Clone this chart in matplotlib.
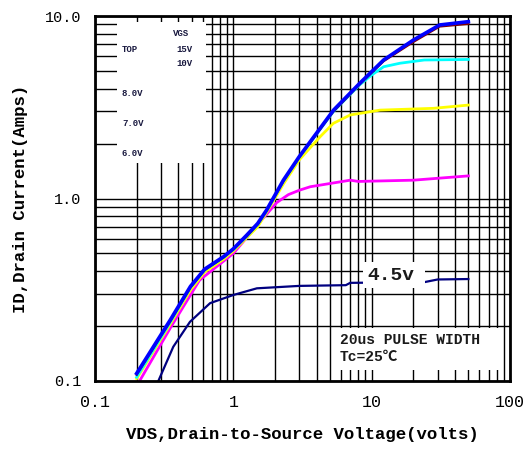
import matplotlib
matplotlib.use("Agg")
import matplotlib.pyplot as plt
from matplotlib.patches import Rectangle
from matplotlib.ticker import LogLocator, NullFormatter

# VGS curves (VDS volts, ID amps)
vds_15 = [0.2, 0.35, 0.49, 0.62, 0.85, 1.0, 1.25, 1.5, 1.74, 2.3, 3.0, 5.3, 8.2, 12.2, 20, 31, 50]
id_15 = [0.11, 0.216, 0.33, 0.41, 0.48, 0.53, 0.63, 0.73, 0.865, 1.26, 1.70, 3.05, 4.28, 5.74, 7.38, 8.93, 9.31]

vds_10 = [0.2, 0.35, 0.49, 0.62, 0.85, 1.0, 1.25, 1.5, 1.74, 2.3, 3.0, 5.3, 8.2, 12.2, 20, 31, 50]
id_10 = [0.108, 0.212, 0.325, 0.405, 0.475, 0.525, 0.62, 0.72, 0.855, 1.24, 1.68, 3.0, 4.22, 5.65, 7.2, 8.75, 9.05]

vds_8 = [0.2, 0.35, 0.49, 0.62, 0.85, 1.0, 1.25, 1.5, 1.74, 2.3, 3.0, 5.3, 8.2, 10, 12.2, 16, 24, 50]
id_8 = [0.105, 0.21, 0.325, 0.405, 0.475, 0.525, 0.62, 0.72, 0.855, 1.24, 1.68, 3.0, 4.2, 4.75, 5.27, 5.51, 5.74, 5.78]

vds_7 = [0.2, 0.35, 0.49, 0.62, 0.85, 1.0, 1.25, 1.5, 1.74, 2.3, 3.0, 4.24, 5.28, 7.0, 11.5, 28, 50]
id_7 = [0.103, 0.205, 0.315, 0.395, 0.465, 0.515, 0.61, 0.70, 0.84, 1.2, 1.63, 2.18, 2.58, 2.87, 3.05, 3.12, 3.25]

vds_6 = [0.21, 0.35, 0.57, 1.0, 1.56, 2.06, 2.5, 3.0, 3.6, 7.0, 8.0, 20, 50]
id_6 = [0.1, 0.195, 0.357, 0.50, 0.746, 0.95, 1.05, 1.11, 1.16, 1.26, 1.24, 1.26, 1.33]

vds_45 = [0.287, 0.368, 0.486, 0.679, 1.0, 1.48, 3.0, 6.5, 7.0, 24, 30, 50]
id_45 = [0.1, 0.154, 0.211, 0.267, 0.296, 0.322, 0.332, 0.335, 0.345, 0.348, 0.36, 0.362]

x_ticks = [0.1, 1, 10, 100]
x_labels = ["0.1", "1", "10", "100"]
y_ticks = [0.1, 1, 10]
y_labels = ["0.1", "1.0", "10.0"]

mono = "Liberation Mono"

fig = plt.figure(figsize=(5.25, 4.53), dpi=100)
ax = fig.add_axes([95 / 525, 1 - 381 / 453, 415 / 525, 365 / 453])
ax.set_xscale("log")
ax.set_yscale("log")
ax.set_xlim(0.1, 100)
ax.set_ylim(0.1, 10)

ax.plot(vds_45, id_45, color="#000080", linewidth=1.6)
ax.plot(vds_6, id_6, color="#ff00ff", linewidth=2)
ax.plot(vds_7, id_7, color="#ffff00", linewidth=2)
ax.plot(vds_8, id_8, color="#00ffff", linewidth=2)
ax.plot(vds_10, id_10, color="#800000", linewidth=1.5)
ax.plot(vds_15, id_15, color="#0000ff", linewidth=2.6)

# white boxes that cover the grid
for (x0, y0, w, h) in [(0.053, 0.597, 0.214, 0.387),
                       (0.573, 0.030, 0.403, 0.115),
                       (0.646, 0.255, 0.149, 0.071)]:
    ax.add_patch(Rectangle((x0, y0), w, h, transform=ax.transAxes,
                           facecolor="white", edgecolor="none", zorder=3))

tkw = dict(transform=ax.transAxes, family=mono, weight="bold",
           fontsize=6.5, color="#1a1a40", zorder=4, va="center")
ax.text((173 - 95) / 415, (381 - 34) / 365, "VGS", **tkw)
ax.text((122 - 95) / 415, (381 - 49) / 365, "TOP", **tkw)
ax.text((176 - 95) / 415, (381 - 49) / 365, "15V", **tkw)
ax.text((176 - 95) / 415, (381 - 63) / 365, "10V", **tkw)
ax.text((122 - 95) / 415, (381 - 93) / 365, "8.0V", **tkw)
ax.text((122 - 95) / 415, (381 - 124) / 365, "7.0V", **tkw)
ax.text((122 - 95) / 415, (381 - 154) / 365, "6.0V", **tkw)

ax.text((367 - 95) / 415, (381 - 275) / 365, "4.5v", transform=ax.transAxes,
        family=mono, weight="bold", fontsize=14, color="#1a1a1a",
        zorder=4, va="center")
ax.text((340 - 95) / 415, (381 - 340) / 365, "20us PULSE WIDTH",
        transform=ax.transAxes, family=mono, weight="bold", fontsize=10.5,
        color="#1a1a1a", zorder=4, va="center")
ax.text((340 - 95) / 415, (381 - 357) / 365, "Tc=25\u2103",
        transform=ax.transAxes, family=[mono, "Noto Sans CJK SC"], weight="bold",
        fontsize=10.5, color="#1a1a1a", zorder=4, va="center")

ax.set_xticks(x_ticks, x_labels, family=mono, fontsize=12)
ax.set_yticks(y_ticks, y_labels, family=mono, fontsize=11)
ax.xaxis.set_minor_locator(LogLocator(base=10, subs=range(2, 10)))
ax.yaxis.set_minor_locator(LogLocator(base=10, subs=range(2, 10)))
ax.xaxis.set_minor_formatter(NullFormatter())
ax.yaxis.set_minor_formatter(NullFormatter())
ax.tick_params(which="both", length=0, pad=10)

ax.set_axisbelow(True)
ax.grid(True, which="both", color="black", linewidth=1.0)

ax.set_xlabel("VDS,Drain-to-Source Voltage(volts)", family=mono,
              weight="bold", fontsize=12.5, labelpad=12)
ax.set_ylabel("ID,Drain Current(Amps)", family=mono, weight="bold",
              fontsize=12.5, labelpad=12)

for s in ax.spines.values():
    s.set_linewidth(2)
    s.set_zorder(5)

fig.savefig("out.png", dpi=100)
